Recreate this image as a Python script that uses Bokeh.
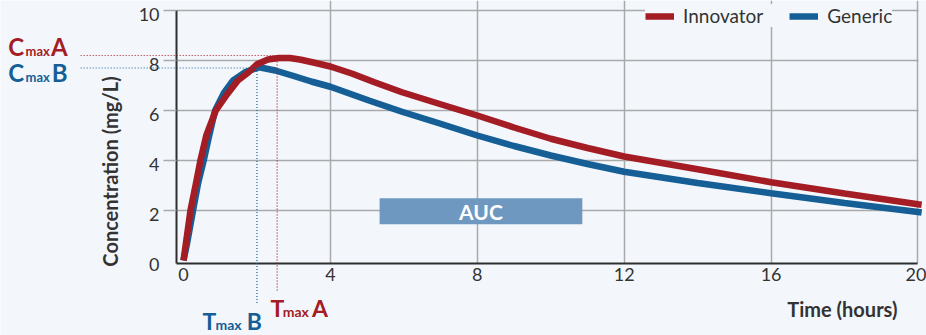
from math import pi
from bokeh.plotting import figure
from bokeh.models import (Legend, LegendItem, Label, Arrow, FixedTicker, Range1d, LinearAxis,
                          BoxAnnotation, ColumnDataSource, Grid, CustomJSTickFormatter)
from bokeh.embed import file_html
from bokeh.resources import INLINE

# ---------------- data ----------------
hours_innovator = [0, 0.1, 0.19, 0.3, 0.46, 0.62, 0.88, 1.2, 1.48, 1.75, 2.0, 2.3, 2.6, 2.9,
                   3.2, 3.6, 4.0, 4.6, 5.2, 5.95, 7.0, 8.0, 9.0, 10.0, 11.0, 12.0, 14.0,
                   16.0, 18.0, 20.0, 20.1]
conc_innovator = [0, 1.05, 2.0, 2.8, 4.0, 5.0, 6.0, 6.67, 7.2, 7.5, 7.85, 8.04, 8.1, 8.1,
                  8.03, 7.9, 7.76, 7.47, 7.13, 6.73, 6.25, 5.8, 5.32, 4.87, 4.5, 4.16, 3.65,
                  3.13, 2.68, 2.25, 2.23]
hours_generic = [0, 0.1, 0.26, 0.4, 0.55, 0.7, 0.86, 1.1, 1.35, 1.7, 2.06, 2.5, 3.0, 3.5,
                 4.0, 5.05, 5.95, 7.0, 8.0, 9.0, 10.0, 11.0, 12.0, 14.0, 16.0, 18.0, 20.0, 20.1]
conc_generic = [0, 0.7, 2.0, 3.1, 4.0, 5.0, 6.0, 6.7, 7.2, 7.55, 7.73, 7.6, 7.38, 7.15,
                6.95, 6.4, 5.95, 5.47, 5.0, 4.58, 4.2, 3.86, 3.55, 3.1, 2.69, 2.3, 1.94, 1.92]
series_names = ["Innovator", "Generic"]
tmax_values = [2.55, 2.0]     # A (innovator), B (generic)
cmax_values = [8.2, 7.7]
x_ticks = [0, 4, 8, 12, 16, 20]
y_ticks = [0, 2, 4, 6, 8, 10]
x_grid = [4, 8, 12, 16, 20]
y_grid = [2, 4, 6, 8, 10]

# ---------------- style ----------------
BG = "#f3f7fc"
RED = "#a51d24"
BLUE = "#155f96"
GRID = "#a9a9a9"
AXIS = "#2e2e2e"
TXT = "#333333"
FONT = "Lato"

X0, X1 = -0.19, 20.0      # extent of the axes
Y0, Y1 = -0.1, 10.0
Y_LABEL_SHIFT = 0.17       # tick labels hang just below their tick

p = figure(width=926, height=335, x_range=Range1d(-4.983, 20.232), y_range=Range1d(-3.0, 10.4),
           output_backend="svg", toolbar_location=None, min_border=0)
p.title.visible = False
p.background_fill_color = BG
p.border_fill_color = BG
p.outline_line_color = None

# axes placed inside the frame
xax = p.xaxis[0]
yax = p.yaxis[0]
xax.fixed_location = Y0
yax.fixed_location = X0
xax.bounds = (X0, X1)
yax.bounds = (Y0, Y1)
xax.ticker = FixedTicker(ticks=x_ticks)
yax.ticker = FixedTicker(ticks=y_grid)
for ax in (xax, yax):
    ax.axis_line_color = AXIS
    ax.axis_line_width = 2
    ax.minor_tick_line_color = None
    ax.major_label_text_font = FONT
    ax.major_label_text_font_size = "18px"
    ax.major_label_text_color = TXT
xax.major_tick_line_color = None
xax.major_tick_out = 0
xax.major_tick_in = 0
xax.major_label_standoff = 5
yax.major_tick_in = 0
yax.major_tick_out = 13
yax.major_tick_line_color = GRID
yax.major_tick_line_width = 1.5
yax.major_label_text_color = None

# y tick labels (hanging below each tick)
ylab = LinearAxis(fixed_location=X0, bounds=(-1.0, Y1),
                  ticker=FixedTicker(ticks=[v - Y_LABEL_SHIFT for v in y_ticks]),
                  formatter=CustomJSTickFormatter(code="return Math.round(tick).toString()"),
                  axis_line_color=None, major_tick_line_color=None, minor_tick_line_color=None,
                  major_tick_in=0, major_tick_out=13, major_label_standoff=4,
                  major_label_text_font=FONT, major_label_text_font_size="18px",
                  major_label_text_color=TXT)
p.add_layout(ylab, "left")

# grid
p.xgrid.ticker = FixedTicker(ticks=x_grid)
p.ygrid.ticker = FixedTicker(ticks=y_grid)
p.grid.grid_line_color = GRID
p.grid.grid_line_width = 1.5
if "cross_bounds" in Grid.properties():
    p.xgrid.cross_bounds = (Y0, 10.4)
    p.ygrid.cross_bounds = (X0, 20.01)
else:
    p.grid.visible = False
    p.segment(x0=x_grid, y0=[Y0] * len(x_grid), x1=x_grid, y1=[10.4] * len(x_grid),
              line_color=GRID, line_width=1.5)
    p.segment(x0=[X0] * len(y_grid), y0=y_grid, x1=[20.01] * len(y_grid), y1=y_grid,
              line_color=GRID, line_width=1.5)

src_a = ColumnDataSource(dict(t=hours_innovator, c=conc_innovator))
src_b = ColumnDataSource(dict(t=hours_generic, c=conc_generic))
r_b = p.line("t", "c", source=src_b, line_color=BLUE, line_width=6.5)
r_a = p.line("t", "c", source=src_a, line_color=RED, line_width=6.5)

# AUC box
p.add_layout(BoxAnnotation(left=5.34, right=10.86, bottom=1.45, top=2.49,
                           fill_color="#6f98c0", fill_alpha=1, line_color=None))
p.add_layout(Label(x=8.1, y=1.97, text="AUC", text_color="white", text_font=FONT,
                   text_font_style="bold", text_font_size="21px",
                   text_align="center", text_baseline="middle"))

# Cmax / Tmax guide lines
colors = [RED, BLUE]
x_label_end = -2.80
y_label_end = [-1.2, -1.72]
for tm, cm, col, yb in zip(tmax_values, cmax_values, colors, y_label_end):
    p.add_layout(Arrow(end=None, x_start=x_label_end, y_start=cm, x_end=tm, y_end=cm,
                       line_color=col, line_width=1.2, line_dash="1 2"))
    p.add_layout(Arrow(end=None, x_start=tm, y_start=cm, x_end=tm, y_end=yb,
                       line_color=col, line_width=1.2, line_dash="1 2"))

def sub_label(parts, col):
    for (x, y, txt, size) in parts:
        p.add_layout(Label(x=x, y=y, text=txt, text_color=col, text_font=FONT,
                           text_font_style="bold", text_font_size=size,
                           text_align="left", text_baseline="alphabetic"))

# Cmax A / Cmax B (left)
sub_label([(-4.77, 8.56, "C", "24px"), (-4.30, 8.40, "max", "13px"),
           (-3.61, 8.56, "A", "24px")], RED)
sub_label([(-4.77, 7.52, "C", "24px"), (-4.30, 7.36, "max", "13px"),
           (-3.59, 7.52, "B", "24px")], BLUE)
# Tmax A / Tmax B (bottom)
sub_label([(2.37, -1.90, "T", "23px"), (2.70, -2.03, "max", "14px"),
           (3.50, -1.90, "A", "23px")], RED)
sub_label([(0.52, -2.42, "T", "23px"), (0.87, -2.55, "max", "14px"),
           (1.72, -2.42, "B", "23px")], BLUE)

# axis titles
p.add_layout(Label(x=-1.99, y=3.56, text="Concentration (mg/L)", angle=pi / 2,
                   text_color=TXT, text_font=FONT, text_font_style="bold",
                   text_font_size="20px", text_align="center", text_baseline="middle"))
p.add_layout(Label(x=19.44, y=-1.92, text="Time (hours)", text_color=TXT, text_font=FONT,
                   text_font_style="bold", text_font_size="20px",
                   text_align="right", text_baseline="middle"))

legend = Legend(items=[LegendItem(label=series_names[0], renderers=[r_a]),
                       LegendItem(label=series_names[1], renderers=[r_b])],
                orientation="horizontal", location=(645, 308))
legend.background_fill_color = BG
legend.background_fill_alpha = 1
legend.border_line_color = None
legend.label_text_font = FONT
legend.label_text_font_size = "19px"
legend.label_text_color = TXT
legend.glyph_width = 29
legend.glyph_height = 14
legend.label_standoff = 9
legend.spacing = 26
legend.padding = 10
legend.margin = 0
p.add_layout(legend)

open("out.html", "w").write(file_html(p, INLINE))
